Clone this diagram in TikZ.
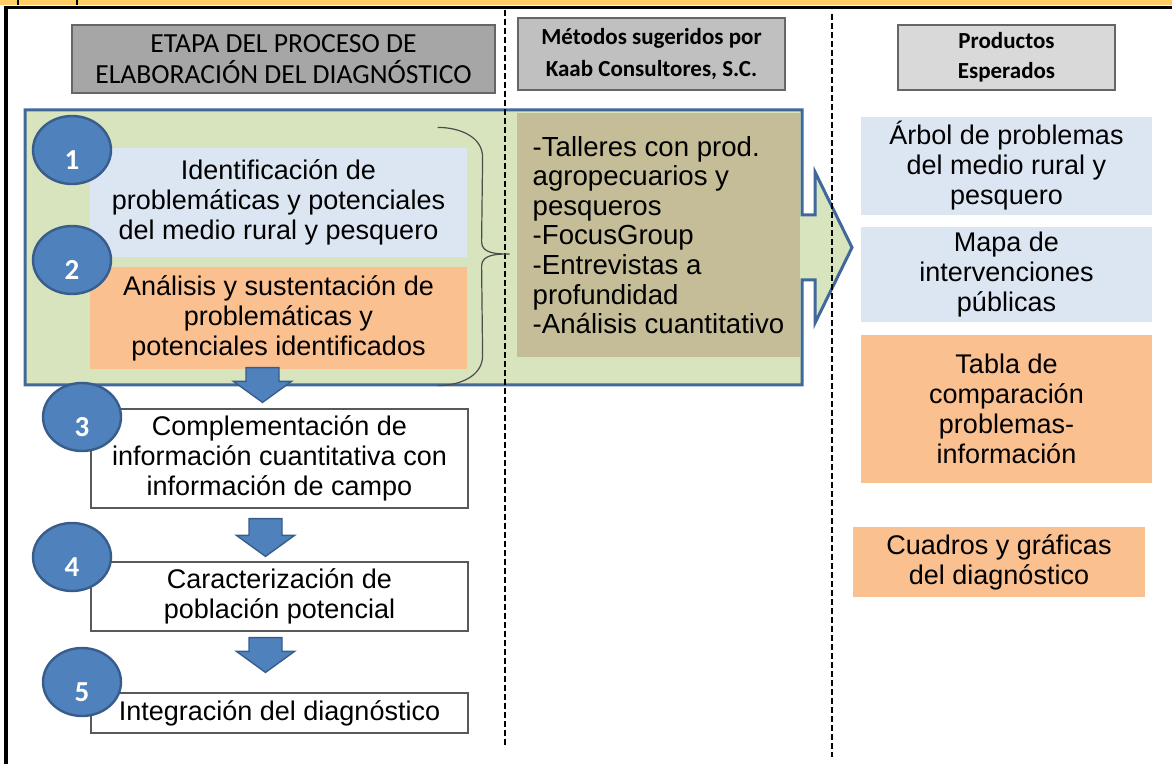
\documentclass[tikz,border=0pt]{standalone}
\usepackage{fontspec}
\setmainfont{Liberation Sans}
\newfontfamily\headfont{Carlito}
\usepackage{tikz}
\usetikzlibrary{shapes.geometric,calc}

\definecolor{stripe}{HTML}{FFCC66}
\definecolor{headdark}{HTML}{A6A6A6}
\definecolor{headmid}{HTML}{C0C0C0}
\definecolor{headlight}{HTML}{D9D9D9}
\definecolor{panelgreen}{HTML}{D7E4BD}
\definecolor{paneledge}{HTML}{41689A}
\definecolor{methodtan}{HTML}{C4BD97}
\definecolor{lightblue}{HTML}{DCE6F2}
\definecolor{peach}{HTML}{FAC090}
\definecolor{circblue}{HTML}{4F81BD}
\definecolor{circedge}{HTML}{385D8A}

\begin{document}
\begin{tikzpicture}[x=0.5pt,y=-0.5pt,
    every node/.style={font=\fontsize{13.5}{15}\selectfont},
    header/.style={draw=black!60,line width=1pt,inner sep=0pt,align=center,
                   font=\headfont\fontsize{13.8}{15.5}\selectfont},
    stepbox/.style={draw=black!65,line width=0.6pt,minimum width=188.5pt,
                    inner sep=0pt,align=center},
    prodbox/.style={minimum width=145.5pt,inner sep=0pt,align=center},
    numcircle/.style={ellipse,fill=circblue,draw=circedge,line width=1.2pt,
                      minimum width=39pt,minimum height=34pt,inner sep=0pt,
                      label={[text=white,yshift=-5pt,
                              font=\headfont\bfseries\fontsize{14.5}{15}\selectfont]center:#1}},
    fatarrow/.style={fill=circblue,draw=circedge,line width=0.7pt,
      to path={let \p1=(\tikztostart), \p2=(\tikztotarget) in
        (\x1-8.25pt,\y1) -- (\x1+8.25pt,\y1) -- (\x1+8.25pt,\y2+10.5pt)
        -- (\x1+14.5pt,\y2+10.5pt) -- (\x1,\y2) -- (\x1-14.5pt,\y2+10.5pt)
        -- (\x1-8.25pt,\y2+10.5pt) -- cycle}},
    brace/.style={draw=black!70,line width=0.6pt},
    divider/.style={draw=black,line width=0.75pt,dash pattern=on 3pt off 1.5pt}]

  \useasboundingbox (0,0) rectangle (1172,764);

  % frame
  \fill[stripe] (0,0) rectangle (1172,5);
  \draw[line width=1pt] (18,0) -- (18,5) (77,0) -- (77,5);
  \draw[line width=1.75pt] (6,764) -- (6,7.5) -- (1172,7.5);

  % column titles
  \node[header,fill=headdark,minimum width=211.5pt,minimum height=34pt]
       (etapa) at (283.5,59) {ETAPA DEL PROCESO DE\\ELABORACIÓN DEL DIAGNÓSTICO};
  \node[header,fill=headmid,minimum width=133.5pt,minimum height=36pt,
        font=\headfont\bfseries\fontsize{11.5}{16}\selectfont]
       (metodos) at (651.5,54) {Métodos sugeridos por\\Kaab Consultores, S.C.};
  \node[header,fill=headlight,minimum width=108.5pt,minimum height=32.5pt,
        font=\headfont\bfseries\fontsize{11.5}{15}\selectfont]
       (productos) at (1006.5,57.5) {Productos\\Esperados};

  % green panel with arrow
  \draw[fill=panelgreen,draw=paneledge,line width=1.5pt]
    (25,110) -- (802,110) -- (802,215) -- (815,215) -- (815,172) -- (852,247.5)
    -- (815,323) -- (815,280) -- (802,280) -- (802,385) -- (25,385) -- cycle;

  \draw[divider] (505,10) -- (505,748);
  \draw[divider] (832,14) -- (832,757);

  \node[fill=methodtan,minimum width=141.5pt,minimum height=122pt,align=left,
        inner sep=0pt,font=\fontsize{13.8}{14.8}\selectfont]
       (tecnicas) at (658.5,235) {-Talleres con prod.\\agropecuarios y\\pesqueros\\-FocusGroup\\-Entrevistas a\\profundidad\\-Análisis cuantitativo};

  \node[stepbox,draw=none,fill=lightblue,minimum height=54.5pt]
       (s1) at (278.5,202.5) {Identificación de\\problemáticas y potenciales\\del medio rural y pesquero};
  \node[stepbox,draw=none,fill=peach,minimum height=51pt]
       (s2) at (278.5,318) {Análisis y sustentación de\\problemáticas y\\potenciales identificados};

  % brace from steps 1-2 to the methods
  \coordinate (bt) at ($(s1.north east)+(-30,-20)$);
  \coordinate (bb) at ($(s2.south east)+(-30,16)$);
  \coordinate (bm) at ($(tecnicas.west)+(-7,19)$);
  \draw[brace] (bt) to[out=0,in=90] ($(bt)+(45,30)$) -- ($(bm)+(-28,-12)$)
    to[out=-90,in=180] (bm) to[out=180,in=90] ($(bm)+(-28,12)$)
    -- ($(bb)+(45,-30)$) to[out=-90,in=0] (bb);

  \node[stepbox,fill=white,minimum height=49.5pt]
       (s3) at (279.5,458.5) {Complementación de\\información cuantitativa con\\información de campo};
  \node[stepbox,fill=white,minimum height=34.5pt]
       (s4) at (279.5,596.5) {Caracterización de\\población potencial};
  \node[stepbox,fill=white,minimum height=20pt]
       (s5) at (279.5,713) {Integración del diagnóstico};

  \draw[fatarrow] ($(s2.south)+(-16,-2)$) to ($(s3.north)+(-16,-6)$);
  \draw[fatarrow] ($(s3.south)+(-14,10)$) to ($(s4.north)+(-14,-5)$);
  \draw[fatarrow] ($(s4.south)+(-14,6)$) to ($(s5.north)+(-14,-20)$);

  \node[numcircle=1] (c1) at (72,150) {};
  \node[numcircle=2] (c2) at (72,260) {};
  \node[numcircle=3] (c3) at (82,417) {};
  \node[numcircle=4] (c4) at (72,557) {};
  \node[numcircle=5] (c5) at (82,682) {};

  % expected products
  \node[prodbox,fill=lightblue,minimum height=49pt]
       (p1) at (1006.5,166) {Árbol de problemas\\del medio rural y\\pesquero};
  \node[prodbox,fill=lightblue,minimum height=47.5pt]
       (p2) at (1006.5,274.5) {Mapa de\\intervenciones\\públicas};
  \node[prodbox,fill=peach,minimum height=74pt]
       (p3) at (1006.5,409) {Tabla de\\comparación\\problemas-\\información};
  \node[prodbox,fill=peach,minimum width=146pt,minimum height=35pt]
       (p4) at (999,562) {Cuadros y gráficas\\del diagnóstico};
\end{tikzpicture}
\end{document}
